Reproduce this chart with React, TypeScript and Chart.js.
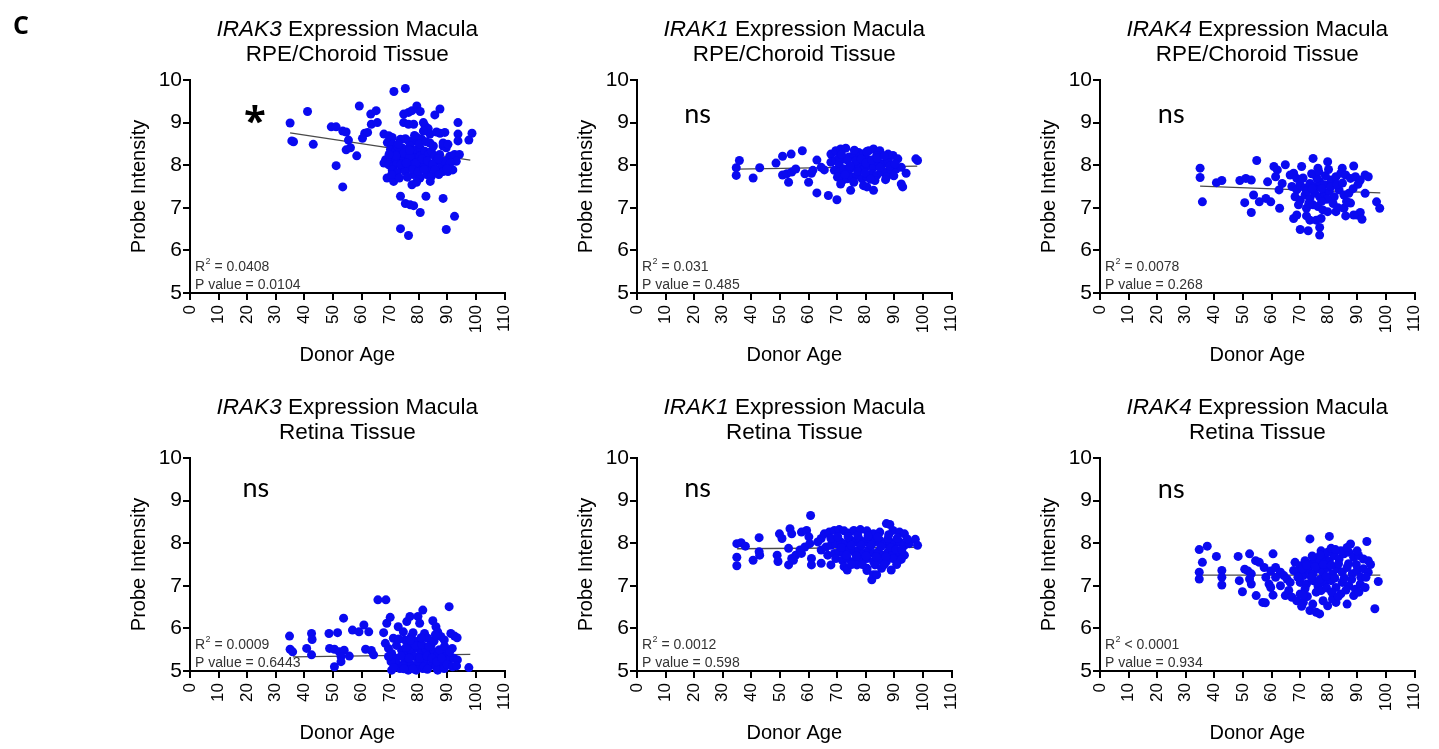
import React, { useEffect, useRef } from "react";
import { Chart, registerables } from "chart.js";

Chart.register(...registerables);

const FONT = '"Liberation Sans", Arial, Helvetica, sans-serif';
const xTickValues = [0, 10, 20, 30, 40, 50, 60, 70, 80, 90, 100, 110];
const yTickValues = [5, 6, 7, 8, 9, 10];
const xAxisLabel = "Donor Age";
const yAxisLabel = "Probe Intensity";
const panelLetter = "C";

// ---- RPE/Choroid IRAK3 ----
const rpeIrak3 = [
  [35.0, 8.99], [35.6, 8.57], [36.2, 8.55], [41.1, 9.26], [43.1, 8.49], [49.4, 8.9], [51.1, 8.9], [53.4, 8.8],
  [54.6, 8.78], [55.4, 8.59], [54.6, 8.36], [56.1, 8.41], [58.3, 8.22], [51.1, 7.99], [53.4, 7.49], [59.2, 9.39],
  [63.2, 9.2], [65.1, 9.28], [63.4, 8.96], [65.5, 9.0], [61.1, 8.75], [62.1, 8.77], [60.3, 8.63], [71.3, 9.73],
  [75.3, 9.8], [74.7, 9.2], [76.4, 9.24], [77.6, 9.28], [79.3, 9.39], [80.5, 9.26], [74.7, 9.0], [76.4, 8.96],
  [78.2, 8.96], [81.6, 9.0], [82.2, 8.92], [83.3, 8.86], [85.6, 9.18], [87.4, 9.32], [67.8, 8.73], [69.5, 8.69],
  [70.7, 8.65], [69.0, 8.53], [70.7, 8.49], [73.6, 8.61], [75.3, 8.62], [76.4, 8.57], [78.2, 8.57], [79.3, 8.65],
  [81.0, 8.61], [83.9, 8.73], [86.2, 8.78], [87.4, 8.75], [89.1, 8.77], [93.7, 9.0], [93.7, 8.73], [93.7, 8.57],
  [98.6, 8.75], [97.5, 8.59], [70.1, 8.37], [71.8, 8.33], [73.0, 8.29], [74.1, 8.41], [75.8, 8.37], [77.0, 8.45],
  [78.1, 8.33], [79.3, 8.37], [80.4, 8.41], [68.4, 8.13], [70.1, 8.09], [71.8, 8.17], [73.0, 8.13], [74.7, 8.13],
  [76.4, 8.21], [77.6, 8.13], [78.7, 8.17], [80.4, 8.21], [82.1, 8.33], [83.3, 8.25], [84.4, 8.33], [85.6, 8.21],
  [87.3, 8.25], [88.5, 8.45], [89.6, 8.41], [90.8, 8.21], [92.5, 8.25], [94.2, 8.25], [67.8, 8.05], [69.5, 8.01],
  [71.2, 7.97], [72.4, 8.05], [74.1, 7.93], [75.3, 7.89], [76.4, 7.97], [78.1, 8.01], [79.9, 7.93], [81.6, 8.05],
  [83.3, 7.93], [85.0, 8.01], [86.2, 8.09], [87.9, 7.97], [89.0, 8.09], [70.7, 7.89], [72.4, 7.82], [75.3, 7.85],
  [78.1, 7.78], [80.4, 7.7], [82.7, 7.78], [84.4, 7.74], [86.2, 7.82], [88.5, 7.85], [90.2, 7.85], [91.9, 7.89],
  [68.9, 7.7], [71.2, 7.62], [77.6, 7.54], [73.6, 7.27], [75.3, 7.1], [77.0, 7.07], [78.2, 7.05], [80.5, 6.89],
  [82.5, 7.27], [88.5, 7.22], [92.5, 6.8], [73.6, 6.51], [76.4, 6.35], [89.6, 6.49], [81.6, 8.8], [83.9, 8.52],
  [88.5, 8.52], [90.2, 8.49], [93.1, 8.09],
  [72.5, 8.45], [74.8, 8.28], [76.9, 8.2], [79.0, 8.05], [81.2, 8.15], [83.0, 8.1], [84.8, 8.02], [86.8, 8.15],
  [72.0, 8.22], [73.8, 8.02], [75.6, 8.05], [77.8, 7.9], [79.8, 7.85], [81.9, 7.9], [85.6, 7.9], [87.0, 7.78],
  [70.5, 7.78], [73.2, 7.7], [76.0, 7.72], [79.2, 7.6], [84.0, 7.62], [72.8, 8.5], [76.8, 8.35], [80.2, 8.5],
  [82.6, 8.55], [85.1, 8.45], [91.0, 8.05], [89.8, 7.92], [69.6, 8.25], [78.5, 8.7],
];
const rpeIrak3Fit = [[35, 8.76], [98, 8.12]];

// ---- RPE/Choroid IRAK1 ----
const rpeIrak1 = [
  [34.7, 7.94], [34.7, 7.76], [35.8, 8.11], [40.6, 7.7], [42.9, 7.94], [48.6, 8.05], [50.9, 8.21], [53.9, 8.26],
  [57.8, 8.34], [50.9, 7.77], [52.4, 7.8], [54.1, 7.84], [55.5, 7.91], [53.0, 7.6], [58.7, 7.8], [61.0, 7.81],
  [61.5, 7.88], [60.0, 7.6], [62.9, 8.12], [64.4, 7.95], [65.5, 7.89], [62.9, 7.35], [66.9, 7.29], [69.9, 7.19],
  [67.8, 8.26], [69.5, 8.34], [71.2, 8.38], [73.0, 8.4], [67.8, 8.07], [69.5, 8.11], [70.7, 8.03], [72.4, 8.15],
  [74.1, 8.19], [75.8, 8.23], [77.5, 8.3], [79.2, 8.26], [81.0, 8.34], [82.7, 8.38], [84.9, 8.34], [69.0, 7.88],
  [70.7, 7.84], [72.4, 7.91], [74.1, 7.88], [75.8, 7.95], [77.5, 7.99], [79.2, 7.91], [81.0, 7.99], [82.7, 7.95],
  [84.4, 8.07], [86.1, 8.03], [87.8, 8.11], [89.5, 8.23], [91.2, 8.15], [70.1, 7.72], [71.8, 7.64], [73.5, 7.68],
  [75.2, 7.72], [76.9, 7.76], [78.7, 7.68], [80.4, 7.72], [82.1, 7.8], [83.8, 7.76], [85.5, 7.84], [87.2, 7.84],
  [88.9, 7.88], [90.6, 7.91], [92.4, 7.95], [94.1, 7.81], [71.2, 7.56], [75.8, 7.6], [79.2, 7.52], [83.2, 7.64],
  [87.2, 7.72], [74.7, 7.41], [80.4, 7.49], [82.7, 7.41], [92.4, 7.56], [92.9, 7.49], [97.5, 8.15], [98.1, 8.11],
  [83.8, 8.23], [87.8, 8.26], [80.4, 8.15], [70.7, 8.19],
  [71.5, 8.25], [73.6, 8.12], [76.5, 8.1], [78.4, 8.15], [80.0, 8.05], [82.0, 8.12], [84.0, 8.17], [86.5, 8.22],
  [88.5, 7.98], [90.2, 8.03], [72.8, 7.78], [74.5, 7.98], [77.2, 7.85], [79.8, 7.82], [81.7, 7.67], [85.0, 7.95],
  [86.9, 7.66], [89.8, 7.75], [76.0, 8.35], [80.3, 8.32],
];
const rpeIrak1Fit = [[35, 7.91], [98, 7.98]];

// ---- RPE/Choroid IRAK4 ----
const rpeIrak4 = [
  [35.0, 7.93], [35.0, 7.71], [35.8, 7.14], [40.7, 7.59], [42.6, 7.64], [48.9, 7.64], [51.0, 7.69], [52.9, 7.65],
  [54.8, 8.11], [50.6, 7.12], [52.9, 6.89], [53.7, 7.3], [55.7, 7.14], [58.0, 7.22], [59.7, 7.14], [58.6, 7.61],
  [60.8, 7.97], [62.0, 7.89], [64.8, 8.01], [61.4, 7.73], [62.6, 7.42], [63.7, 7.57], [62.8, 6.99], [66.5, 7.77],
  [67.7, 7.81], [68.8, 7.69], [70.5, 7.97], [74.5, 8.16], [76.2, 7.93], [79.6, 8.08], [84.7, 7.93], [88.7, 7.98],
  [67.1, 7.5], [68.8, 7.42], [70.0, 7.54], [71.7, 7.46], [73.4, 7.57], [75.1, 7.5], [76.8, 7.61], [78.5, 7.54],
  [80.8, 7.65], [82.5, 7.73], [84.2, 7.81], [85.9, 7.77], [87.6, 7.69], [89.3, 7.73], [91.0, 7.65], [92.7, 7.77],
  [93.8, 7.73], [68.2, 7.26], [70.0, 7.18], [71.7, 7.3], [73.4, 7.22], [75.1, 7.34], [76.8, 7.26], [78.5, 7.34],
  [80.2, 7.38], [81.9, 7.26], [83.6, 7.42], [85.3, 7.3], [87.0, 7.34], [69.4, 7.07], [72.2, 6.99], [74.5, 7.07],
  [76.2, 7.03], [77.9, 6.95], [79.6, 6.91], [82.5, 6.91], [85.3, 6.99], [87.6, 7.11], [89.9, 6.83], [91.0, 6.89],
  [92.7, 7.34], [67.7, 6.75], [68.8, 6.83], [72.2, 6.81], [73.4, 6.71], [75.6, 6.71], [77.3, 6.75], [85.9, 6.81],
  [88.7, 6.83], [91.6, 6.73], [70.0, 6.49], [72.8, 6.46], [76.8, 6.54], [76.8, 6.36], [96.7, 7.14], [97.8, 6.99],
  [72.5, 7.4], [74.2, 7.45], [75.8, 7.7], [77.5, 7.45], [79.3, 7.2], [80.8, 7.5], [82.8, 7.55], [84.8, 7.58],
  [86.2, 7.15], [74.0, 7.8], [76.5, 7.85], [78.8, 7.75], [81.5, 7.1], [83.2, 7.0], [73.0, 7.1], [71.0, 7.7],
  [88.5, 7.45], [90.2, 7.55], [77.5, 7.15], [79.9, 7.9],
];
const rpeIrak4Fit = [[35, 7.51], [98, 7.35]];

// ---- Retina IRAK3 ----
const retIrak3 = [
  [34.8, 5.82], [35.0, 5.51], [35.9, 5.45], [42.5, 5.88], [42.7, 5.74], [42.5, 5.38], [40.8, 5.53], [48.6, 5.88],
  [51.6, 5.9], [48.8, 5.53], [50.5, 5.51], [52.2, 5.45], [53.9, 5.49], [52.8, 5.34], [55.7, 5.35], [52.8, 5.22],
  [50.5, 5.1], [53.7, 6.24], [56.8, 5.96], [59.1, 5.92], [60.8, 6.08], [62.5, 5.92], [61.4, 5.51], [63.4, 5.48],
  [64.2, 5.38], [65.7, 6.67], [68.5, 6.67], [67.7, 5.9], [68.8, 6.12], [70.0, 6.26], [68.3, 5.65], [69.4, 5.53],
  [70.5, 5.41], [71.7, 5.3], [72.3, 5.18], [73.4, 5.06], [71.1, 5.77], [72.8, 6.04], [74.6, 5.92], [75.8, 6.16],
  [76.9, 6.28], [75.1, 5.73], [76.9, 5.61], [77.4, 5.81], [79.1, 5.69], [79.7, 6.28], [80.3, 6.12], [81.4, 6.43],
  [82.0, 5.88], [83.1, 5.77], [84.3, 5.61], [84.9, 6.18], [86.0, 6.04], [86.6, 5.92], [87.7, 5.81], [88.9, 5.73],
  [90.6, 6.51], [91.2, 5.88], [91.7, 5.53], [74.0, 5.49], [75.7, 5.41], [77.4, 5.45], [78.6, 5.34], [79.7, 5.53],
  [80.9, 5.41], [82.6, 5.49], [83.7, 5.34], [85.4, 5.45], [86.6, 5.38], [88.3, 5.49], [89.4, 5.34], [90.6, 5.26],
  [92.3, 5.3], [93.5, 5.26], [75.1, 5.22], [77.4, 5.14], [79.7, 5.18], [82.0, 5.22], [84.3, 5.14], [86.0, 5.1],
  [87.7, 5.18], [76.3, 5.02], [79.1, 5.02], [81.4, 5.06], [86.6, 5.02], [88.9, 5.06], [97.5, 5.08], [70.3, 5.22],
  [69.4, 5.34], [70.5, 5.02], [92.5, 5.82], [93.4, 5.78],
  [72.2, 5.6], [73.8, 5.35], [74.6, 5.12], [75.5, 5.55], [76.6, 5.3], [77.9, 5.05], [78.8, 5.6], [80.3, 5.3],
  [81.1, 5.62], [81.8, 5.1], [82.9, 5.35], [83.6, 5.58], [84.6, 5.3], [85.3, 5.7], [86.3, 5.22], [87.2, 5.5],
  [88.0, 5.3], [89.0, 5.58], [89.8, 5.15], [90.8, 5.45], [73.0, 5.75], [78.0, 5.9], [80.8, 5.78], [85.8, 5.85],
  [74.8, 5.05], [83.0, 5.04], [91.8, 5.1], [93.2, 5.12], [71.2, 5.08], [77.0, 5.72],
];
const retIrak3Fit = [[36, 5.33], [98, 5.39]];

// ---- Retina IRAK1 ----
const retIrak1 = [
  [34.9, 7.99], [36.4, 8.01], [37.9, 7.93], [34.9, 7.67], [34.9, 7.47], [40.6, 7.6], [42.7, 8.13], [42.7, 7.8],
  [42.9, 7.72], [49.0, 7.72], [49.3, 7.57], [49.8, 8.22], [50.7, 8.11], [53.5, 8.34], [54.1, 8.22], [53.0, 7.88],
  [54.1, 7.64], [55.5, 7.72], [53.0, 7.49], [54.7, 7.6], [57.5, 8.26], [59.3, 8.3], [60.1, 8.15], [57.0, 7.84],
  [58.7, 7.91], [60.4, 7.99], [57.5, 7.76], [60.7, 8.65], [61.0, 7.64], [61.0, 7.49], [63.2, 8.03], [64.4, 8.11],
  [65.5, 8.22], [67.2, 8.26], [69.0, 8.3], [70.7, 8.32], [72.4, 8.29], [74.1, 8.24], [75.8, 8.3], [78.1, 8.32],
  [80.4, 8.29], [82.7, 8.22], [84.9, 8.26], [87.2, 8.46], [88.4, 8.44], [89.5, 8.3], [91.8, 8.26], [93.5, 8.22],
  [64.4, 7.84], [66.1, 7.91], [67.8, 7.95], [69.5, 7.99], [71.2, 8.03], [72.9, 7.99], [74.7, 8.07], [76.4, 8.03],
  [78.1, 8.07], [79.8, 8.03], [81.5, 8.09], [83.2, 8.03], [84.9, 8.07], [86.7, 7.99], [88.4, 8.03], [90.1, 7.99],
  [91.8, 8.03], [93.5, 7.95], [95.2, 7.99], [97.3, 8.09], [98.1, 7.95], [66.7, 7.72], [69.0, 7.76], [70.7, 7.8],
  [72.4, 7.76], [74.1, 7.84], [75.8, 7.8], [77.5, 7.84], [79.2, 7.76], [80.9, 7.84], [82.7, 7.76], [84.4, 7.8],
  [86.1, 7.72], [87.8, 7.8], [89.5, 7.76], [91.8, 7.68], [93.5, 7.72], [69.5, 7.64], [71.8, 7.6], [73.5, 7.64],
  [75.8, 7.57], [78.1, 7.6], [80.4, 7.64], [82.7, 7.57], [84.9, 7.6], [87.2, 7.57], [89.5, 7.64], [92.4, 7.62],
  [67.8, 7.49], [72.4, 7.45], [76.9, 7.49], [80.4, 7.41], [83.2, 7.49], [85.5, 7.41], [88.9, 7.37], [73.5, 7.37],
  [64.4, 7.53], [80.4, 7.36], [82.7, 7.26], [82.1, 7.14], [83.8, 7.26], [67.8, 8.11], [87.8, 8.11],
  [71.5, 7.9], [73.2, 7.72], [74.9, 7.95], [76.7, 7.7], [78.4, 7.95], [80.1, 7.7], [81.9, 7.95], [83.6, 7.68],
  [85.3, 7.92], [87.0, 7.68], [88.8, 7.9], [90.5, 7.85], [92.6, 7.85], [94.5, 8.1], [70.2, 8.15], [73.8, 8.15],
  [77.2, 8.18], [80.8, 8.17], [84.2, 8.14], [88.0, 8.2], [91.0, 8.12], [75.0, 7.5], [78.8, 7.5], [86.5, 7.5],
  [90.8, 7.5],
];
const retIrak1Fit = [[35, 7.87], [98, 7.9]];

// ---- Retina IRAK4 ----
const retIrak4 = [
  [34.7, 7.85], [37.5, 7.93], [35.8, 7.55], [34.7, 7.32], [34.7, 7.16], [40.7, 7.69], [42.6, 7.36], [42.6, 7.2],
  [42.6, 7.02], [48.3, 7.69], [48.7, 7.12], [49.8, 6.86], [50.6, 7.39], [51.7, 7.35], [52.9, 7.28], [52.3, 7.16],
  [52.3, 7.75], [54.4, 7.59], [55.7, 7.55], [57.4, 7.43], [52.9, 7.04], [54.6, 6.77], [56.9, 6.61], [57.8, 6.6],
  [58.0, 7.2], [59.1, 7.04], [60.5, 6.78], [59.7, 6.96], [60.5, 7.75], [59.7, 7.35], [61.4, 7.43], [63.1, 7.32],
  [64.3, 7.24], [65.4, 7.16], [66.5, 7.08], [61.4, 7.2], [63.1, 7.0], [64.8, 6.77], [66.0, 6.89], [67.1, 6.73],
  [68.8, 6.65], [70.0, 6.81], [71.1, 6.61], [70.5, 6.52], [73.4, 6.42], [75.6, 6.38], [76.8, 6.34], [74.4, 6.57],
  [79.6, 6.53], [82.5, 6.61], [81.3, 6.69], [86.4, 6.57], [96.1, 6.46], [73.4, 8.1], [80.2, 8.16], [87.6, 7.98],
  [93.3, 8.04], [68.2, 7.55], [70.0, 7.47], [71.7, 7.59], [73.4, 7.51], [75.1, 7.63], [76.8, 7.55], [78.5, 7.67],
  [80.2, 7.59], [81.9, 7.71], [83.6, 7.63], [85.3, 7.75], [87.0, 7.79], [88.7, 7.67], [90.4, 7.71], [92.1, 7.63],
  [93.8, 7.59], [69.4, 7.32], [71.1, 7.24], [72.8, 7.36], [74.5, 7.28], [76.2, 7.4], [77.9, 7.32], [79.6, 7.43],
  [81.3, 7.28], [83.0, 7.4], [84.7, 7.32], [86.4, 7.43], [88.2, 7.28], [89.9, 7.36], [92.1, 7.4], [93.8, 7.32],
  [97.3, 7.1], [67.7, 7.36], [70.0, 7.08], [72.2, 7.04], [74.5, 7.12], [76.2, 7.0], [78.5, 7.08], [80.8, 7.12],
  [82.5, 6.96], [84.7, 7.08], [87.0, 7.0], [89.3, 6.92], [91.0, 7.04], [92.7, 6.96], [71.7, 6.93], [77.3, 6.89],
  [84.2, 6.81], [88.7, 6.77], [77.3, 7.82], [79.6, 7.79], [80.8, 7.88], [84.2, 7.82], [86.4, 7.9], [89.9, 7.82],
  [70.8, 7.4], [72.2, 7.48], [73.9, 7.2], [75.3, 7.45], [76.9, 7.15], [78.1, 7.5], [79.1, 7.22], [80.8, 7.48],
  [82.1, 7.18], [83.4, 7.52], [85.4, 7.18], [86.9, 7.52], [88.0, 7.15], [89.6, 7.5], [91.2, 7.2], [74.2, 7.7],
  [77.0, 7.72], [82.3, 7.85], [75.6, 6.85], [79.2, 6.95], [81.0, 6.85], [86.0, 6.9], [90.5, 6.85], [72.5, 6.75],
  [78.0, 6.65], [83.3, 6.75], [94.6, 7.5], [93.0, 7.2], [69.2, 7.2], [71.0, 6.78],
];
const retIrak4Fit = [[35, 7.25], [98, 7.25]];

const genes = ["IRAK3", "IRAK1", "IRAK4"];
const tissues = ["RPE/Choroid Tissue", "Retina Tissue"];
const significance = ["*", "ns", "ns", "ns", "ns", "ns"];
const sigPositions = [[22.7, 9.2], [21.2, 9.2], [24.9, 9.2], [23, 9.3], [21.2, 9.28], [24.9, 9.27]];
const r2Texts = ["= 0.0408", "= 0.031", "= 0.0078", "= 0.0009", "= 0.0012", "< 0.0001"];
const pTexts = ["0.0104", "0.485", "0.268", "0.6443", "0.598", "0.934"];
const seriesList = [rpeIrak3, rpeIrak1, rpeIrak4, retIrak3, retIrak1, retIrak4];
const fitList = [rpeIrak3Fit, rpeIrak1Fit, rpeIrak4Fit, retIrak3Fit, retIrak1Fit, retIrak4Fit];

const CANVAS_W = 520;
const CANVAS_H = 373;
const AXIS_W = 180;
const AXIS_H = 80;
const PAD_TOP = 80;
const PAD_RIGHT = 20;
const colLefts = [10, 457, 920];
const rowTops = [0, 378];

type PanelDef = {
  idx: number;
  gene: string;
  tissue: string;
  points: number[][];
  fit: number[][];
  sig: string;
  sigPos: number[];
  r2: string;
  p: string;
  letter: string | null;
};

function PanelChart({ p, left, top }: { p: PanelDef; left: number; top: number }) {
  const ref = useRef<HTMLCanvasElement | null>(null);
  useEffect(() => {
    const canvas = ref.current;
    if (!canvas) return;
    const annot = {
      id: "annot" + p.idx,
      afterDraw(chart: any) {
        const { ctx, chartArea: a, scales } = chart;
        ctx.save();
        const cx = (a.left + a.right) / 2;
        ctx.fillStyle = "#000";
        ctx.textBaseline = "middle";
        const fItal = `italic 22.5px ${FONT}`;
        const fNorm = `22.5px ${FONT}`;
        const rest = " Expression Macula";
        ctx.font = fItal;
        const w1 = ctx.measureText(p.gene).width;
        ctx.font = fNorm;
        const w2 = ctx.measureText(rest).width;
        const x0 = cx - (w1 + w2) / 2;
        ctx.textAlign = "left";
        ctx.font = fItal;
        ctx.fillText(p.gene, x0, a.top - 50);
        ctx.font = fNorm;
        ctx.fillText(rest, x0 + w1, a.top - 50);
        ctx.textAlign = "center";
        ctx.fillText(p.tissue, cx, a.top - 25);

        // significance
        const sx = scales.x.getPixelForValue(p.sigPos[0]);
        const sy = scales.y.getPixelForValue(p.sigPos[1]);
        if (p.sig === "*") {
          ctx.font = `bold 40px "Open Sans", Lato, sans-serif`;
          ctx.fillText(p.sig, sx, sy + 10);
        } else {
          ctx.font = `27px Lato, "Open Sans", sans-serif`;
          ctx.fillText(p.sig, sx, sy);
        }

        // stats
        ctx.fillStyle = "#333";
        ctx.textAlign = "left";
        const lx = a.left + 5;
        ctx.font = `14px ${FONT}`;
        ctx.fillText("R", lx, a.bottom - 26);
        const wR = ctx.measureText("R").width;
        ctx.font = `9px ${FONT}`;
        ctx.fillText("2", lx + wR + 0.5, a.bottom - 31);
        const wS = ctx.measureText("2").width;
        ctx.font = `14px ${FONT}`;
        ctx.fillText(" " + p.r2, lx + wR + wS + 0.5, a.bottom - 26);
        ctx.fillText("P value = " + p.p, lx, a.bottom - 8);

        if (p.letter) {
          ctx.fillStyle = "#000";
          ctx.font = `bold 25px "Open Sans", "DejaVu Sans", sans-serif`;
          ctx.textBaseline = "alphabetic";
          ctx.fillText(p.letter, 3, 34);
        }
        ctx.restore();
      },
    };

    const chart = new Chart(canvas, {
      type: "scatter",
      data: {
        datasets: [
          {
            label: "data",
            data: p.points.map((d) => ({ x: d[0], y: d[1] })),
            backgroundColor: "#0a0af0",
            borderColor: "#0a0af0",
            borderWidth: 0,
            pointRadius: 4.5,
            clip: false as any,
            order: 1,
          },
          {
            label: "fit",
            data: p.fit.map((d) => ({ x: d[0], y: d[1] })),
            showLine: true,
            borderColor: "#4a4a4a",
            borderWidth: 1.3,
            pointRadius: 0,
            order: 2,
          } as any,
        ],
      },
      options: {
        animation: false,
        responsive: false,
        devicePixelRatio: 1,
        events: [],
        layout: { padding: { left: 0, top: PAD_TOP, right: PAD_RIGHT, bottom: 0 } },
        plugins: { legend: { display: false }, tooltip: { enabled: false }, title: { display: false } },
        scales: {
          x: {
            type: "linear",
            position: "bottom",
            min: 0,
            max: 110,
            afterBuildTicks: (s: any) => {
              s.ticks = xTickValues.map((v) => ({ value: v }));
            },
            afterFit: (s: any) => {
              s.height = AXIS_H;
            },
            ticks: {
              minRotation: 90,
              maxRotation: 90,
              autoSkip: false,
              padding: 5,
              color: "#000",
              font: { size: 17, family: FONT },
            },
            grid: { drawOnChartArea: false, tickLength: 7, color: "#000", lineWidth: 2 },
            border: { color: "#000", width: 2 },
            title: {
              display: true,
              text: xAxisLabel,
              color: "#000",
              font: { size: 20, family: FONT },
              padding: { top: 0, bottom: 6 },
            },
          },
          y: {
            type: "linear",
            position: "left",
            min: 5,
            max: 10,
            afterBuildTicks: (s: any) => {
              s.ticks = yTickValues.map((v) => ({ value: v }));
            },
            afterFit: (s: any) => {
              s.width = AXIS_W;
            },
            ticks: { padding: 1, color: "#000", font: { size: 21, family: FONT } },
            grid: { drawOnChartArea: false, tickLength: 7, color: "#000", lineWidth: 2 },
            border: { color: "#000", width: 2 },
            title: {
              display: true,
              text: yAxisLabel,
              color: "#000",
              font: { size: 20, family: FONT },
              padding: { top: 117, bottom: 0 },
            },
          },
        },
      },
      plugins: [annot],
    } as any);
    return () => chart.destroy();
  }, [p]);
  return (
    <canvas
      ref={ref}
      width={CANVAS_W}
      height={CANVAS_H}
      style={{ position: "absolute", left, top, width: CANVAS_W, height: CANVAS_H }}
    />
  );
}

const panels: PanelDef[] = seriesList.map((pts, i) => ({
  idx: i,
  gene: genes[i % 3],
  tissue: tissues[Math.floor(i / 3)],
  points: pts,
  fit: fitList[i],
  sig: significance[i],
  sigPos: sigPositions[i],
  r2: r2Texts[i],
  p: pTexts[i],
  letter: i === 0 ? panelLetter : null,
}));

export default function App() {
  return (
    <div
      style={{
        position: "absolute",
        left: 0,
        top: 0,
        width: 1439,
        height: 749,
        background: "#fff",
        overflow: "hidden",
      }}
    >
      {panels.map((p, i) => (
        <PanelChart key={i} p={p} left={colLefts[i % 3]} top={rowTops[Math.floor(i / 3)]} />
      ))}
    </div>
  );
}
